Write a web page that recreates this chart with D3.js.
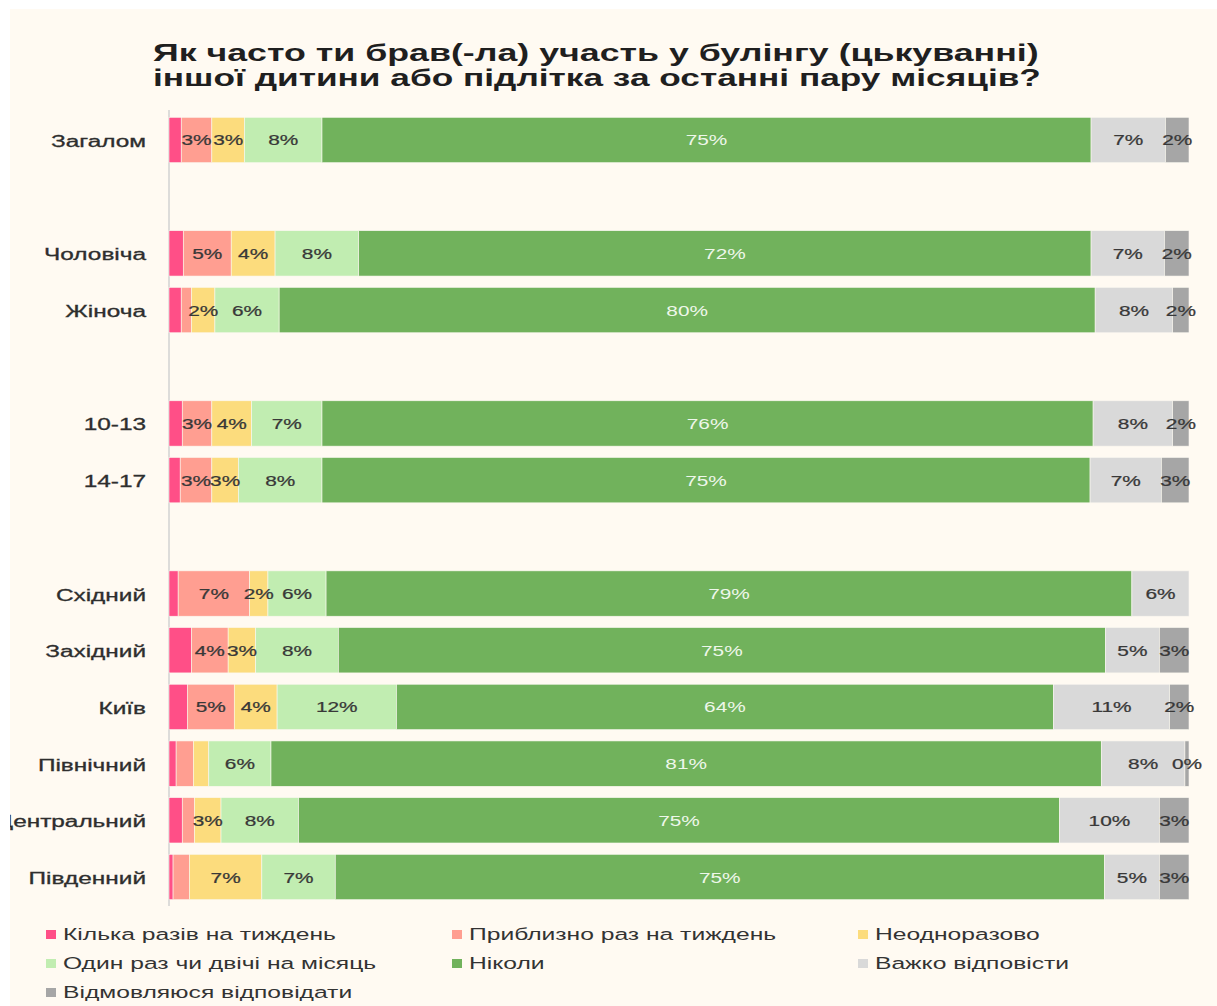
<!DOCTYPE html>
<html><head><meta charset="utf-8">
<script src="https://cdn.jsdelivr.net/npm/d3@7"></script>
<style>html,body{margin:0;padding:0;background:#ffffff;}svg{display:block;}</style>
</head><body>
<svg id="chart" width="1217" height="1006"></svg>
<script>
// ---- data ----
const titleLines = ["Як часто ти брав(-ла) участь у булінгу (цькуванні)", "іншої дитини або підлітка за останні пару місяців?"];
const groups = [["Загалом"], ["Чоловіча", "Жіноча"], ["10-13", "14-17"], ["Східний", "Західний", "Київ", "Північний", "Центральний", "Південний"]];
const categories = groups.flat();
const seriesNames = ["Кілька разів на тиждень", "Приблизно раз на тиждень", "Неодноразово", "Один раз чи двічі на місяць", "Ніколи", "Важко відповісти", "Відмовляюся відповідати"];
const sSeveralWeekly = [1.2, 1.4, 1.2, 1.3, 1.1, 0.9, 2.2, 1.8, 0.7, 1.3, 0.4];
const sWeekly        = [3.0, 4.7, 1.0, 2.9, 3.1, 7.0, 3.6, 4.6, 1.7, 1.2, 1.6];
const sRepeatedly    = [3.2, 4.3, 2.3, 3.9, 2.6, 1.8, 2.7, 4.2, 1.5, 2.6, 7.1];
const sMonthly       = [7.6, 8.2, 6.3, 6.9, 8.2, 5.7, 8.1, 11.7, 6.1, 7.6, 7.2];
const sNever         = [75.4, 71.8, 80.0, 75.6, 75.3, 79.0, 75.2, 64.4, 81.4, 74.6, 75.4];
const sHard          = [7.3, 7.2, 7.6, 7.8, 7.0, 5.6, 5.3, 11.4, 8.2, 9.8, 5.4];
const sRefuse        = [2.3, 2.4, 1.6, 1.6, 2.7, 0.0, 2.9, 1.9, 0.4, 2.9, 2.9];
const seriesValues = [sSeveralWeekly, sWeekly, sRepeatedly, sMonthly, sNever, sHard, sRefuse];
const colors = ["#ff4f87", "#ff9e91", "#fcdc7d", "#c1edb1", "#71b25c", "#d9d9d9", "#a6a6a6"];
const xTicks = [0, 100];

// ---- layout ----
const svg = d3.select("#chart");
const W = 1217, H = 1006;
svg.append("defs").append("clipPath").attr("id", "panel")
  .append("rect").attr("x", 10).attr("y", 9).attr("width", W - 10).attr("height", H - 9);
const root = svg.append("g").attr("clip-path", "url(#panel)");
root.append("rect").attr("x", 10).attr("y", 9).attr("width", W - 10).attr("height", H - 9).attr("fill", "#fffaf2");

// slots with spacers between groups
const slots = [];
groups.forEach((g, gi) => { if (gi > 0) slots.push("__gap" + gi); g.forEach(c => slots.push(c)); });

const x = d3.scaleLinear().domain(d3.extent(xTicks)).range([169, 1189]);
const y = d3.scaleBand().domain(slots).range([111.65, 905.35]).paddingInner(0.2).paddingOuter(0.1);

const table = categories.map((c, i) => {
  const o = { cat: c };
  seriesNames.forEach((s, si) => o[s] = seriesValues[si][i]);
  return o;
});
const stacked = d3.stack().keys(seriesNames)(table);

// axis line
root.append("line").attr("x1", x(0)).attr("x2", x(0)).attr("y1", 110).attr("y2", 906)
  .attr("stroke", "#d2d2d2").attr("stroke-width", 1.5);

// bars
const layers = root.append("g").selectAll("g").data(stacked).join("g").attr("fill", (d, i) => colors[i]);
layers.selectAll("rect").data(d => d).join("rect")
  .attr("x", d => x(d[0])).attr("width", d => Math.max(0, x(d[1]) - x(d[0])))
  .attr("y", d => y(d.data.cat)).attr("height", y.bandwidth())
  .attr("stroke", "#fbf8f0").attr("stroke-width", 0.6);

// helper: horizontally stretched text
function measure(str, font, size, weight) {
  const t = svg.append("text").attr("font-family", font).attr("font-size", size).attr("font-weight", weight || 400).text(str);
  const w = t.node().getComputedTextLength(); t.remove(); return w;
}
const FONT = "Liberation Sans, Arial, sans-serif";
const catSX = 95 / measure("Загалом", FONT, 16);
const valSX = 41.7 / measure("75%", FONT, 15);
const legSX = 273 / measure("Кілька разів на тиждень", FONT, 17);
const titleTargets = [886, 888];
const titleSX = titleLines.map((t, i) => titleTargets[i] / measure(t, FONT, 23, 700));

// value labels
const labels = [];
stacked.forEach((layer, si) => {
  layer.forEach(d => {
    const v = d[1] - d[0];
    const last = si === seriesNames.length - 1;
    const show = si !== 0 && (last ? v > 0 : v >= 1.75);
    if (show) labels.push({ si, v, cx: x((d[0] + d[1]) / 2), cy: y(d.data.cat) + y.bandwidth() / 2 });
  });
});
root.append("g").selectAll("text").data(labels).join("text")
  .attr("transform", d => `translate(${d.cx},${d.cy + 5.5}) scale(${valSX},1)`)
  .attr("text-anchor", "middle").attr("font-family", FONT).attr("font-size", 15)
  .attr("fill", d => d.si === 4 ? "#eef7ea" : "#383838")
  .attr("stroke", d => d.si === 4 ? "none" : "#383838").attr("stroke-width", 0.25)
  .text(d => Math.round(d.v) + "%");

// category labels
root.append("g").selectAll("text").data(categories).join("text")
  .attr("transform", d => `translate(146,${y(d) + y.bandwidth() / 2 + 7}) scale(${catSX},1)`)
  .attr("text-anchor", "end").attr("font-family", FONT).attr("font-size", 16).attr("fill", "#2e2e2e")
  .attr("stroke", "#2e2e2e").attr("stroke-width", 0.3)
  .text(d => d);

// title
root.append("g").selectAll("text").data(titleLines).join("text")
  .attr("transform", (d, i) => `translate(153,${61 + i * 25}) scale(${titleSX[i]},1)`)
  .attr("font-family", FONT).attr("font-size", 23).attr("font-weight", 700).attr("fill", "#1f1f1f")
  .text(d => d);

// legend
const legCols = [46, 452, 858], legRow0 = 939.5, legStep = 29;
const leg = root.append("g").selectAll("g").data(seriesNames).join("g")
  .attr("transform", (d, i) => `translate(${legCols[i % 3]},${legRow0 + Math.floor(i / 3) * legStep})`);
leg.append("rect").attr("x", 0).attr("y", -9.5).attr("width", 10).attr("height", 9).attr("fill", (d, i) => colors[i]);
leg.append("text").attr("transform", `translate(17,0) scale(${legSX},1)`)
  .attr("font-family", FONT).attr("font-size", 17).attr("fill", "#333333").text(d => d);
</script>
</body></html>
